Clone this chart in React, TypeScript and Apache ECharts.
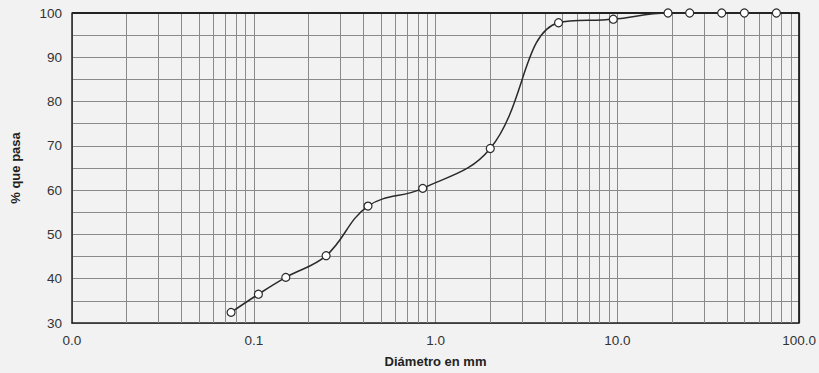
import React, { useEffect, useRef } from "react";
import * as echarts from "echarts";

const diameters = [0.075, 0.106, 0.15, 0.25, 0.425, 0.85, 2.0, 4.75, 9.5, 19, 25, 37.5, 50, 75];
const passing = [32.4, 36.5, 40.3, 45.2, 56.4, 60.4, 69.4, 97.8, 98.6, 100, 100, 100, 100, 100];
const minorX = [
  0.02, 0.03, 0.04, 0.05, 0.06, 0.07, 0.08, 0.09,
  0.2, 0.3, 0.4, 0.5, 0.6, 0.7, 0.8, 0.9,
  2, 3, 4, 5, 6, 7, 8, 9,
  20, 30, 40, 50, 60, 70, 80, 90,
];

export default function App() {
  const ref = useRef<HTMLDivElement>(null);
  useEffect(() => {
    if (!ref.current) return;
    const chart = echarts.init(ref.current, null, { renderer: "svg" });
    const font = "Liberation Sans, Arial, sans-serif";
    chart.setOption({
      animation: false,
      backgroundColor: "#f2f2f2",
      grid: { left: 72, right: 19, top: 13, bottom: 47, show: false },
      xAxis: {
        type: "log",
        logBase: 10,
        min: 0.01,
        max: 100,
        name: "Diámetro en mm",
        nameLocation: "middle",
        nameGap: 32,
        nameTextStyle: { fontFamily: font, fontWeight: "bold", fontSize: 13, color: "#222" },
        axisLine: { show: true, onZero: false, lineStyle: { color: "#222", width: 1.5 } },
        axisTick: { show: false },
        axisLabel: {
          fontFamily: font,
          fontSize: 13.5,
          color: "#333",
          margin: 10,
          formatter: (v: number) => v.toFixed(1),
        },
        splitLine: { show: true, lineStyle: { color: "#8a8a8a", width: 1 } },
      },
      yAxis: {
        type: "value",
        min: 30,
        max: 100,
        interval: 5,
        name: "% que pasa",
        nameLocation: "middle",
        nameGap: 50,
        nameRotate: 90,
        nameTextStyle: { fontFamily: font, fontWeight: "bold", fontSize: 13, color: "#222" },
        axisLine: { show: true, lineStyle: { color: "#222", width: 1.5 } },
        axisTick: { show: false },
        axisLabel: {
          fontFamily: font,
          fontSize: 13.5,
          color: "#333",
          margin: 10,
          formatter: (v: number) => (v % 10 === 0 ? String(v) : ""),
        },
        splitLine: { show: true, lineStyle: { color: "#8a8a8a", width: 1 } },
      },
      series: [
        {
          type: "line",
          data: diameters.map((d, i) => [d, passing[i]]),
          smooth: 0.4,
          symbol: "circle",
          symbolSize: 8,
          lineStyle: { color: "#2a2a2a", width: 1.5 },
          itemStyle: { color: "#ffffff", borderColor: "#2a2a2a", borderWidth: 1.2 },
          z: 5,
          markLine: {
            silent: true,
            symbol: "none",
            label: { show: false },
            lineStyle: { color: "#8a8a8a", width: 1, type: "solid" },
            data: minorX.map((x) => ({ xAxis: x })),
            z: 1,
          },
        },
        {
          type: "line",
          data: [[0.01, 100], [100, 100], [100, 30]],
          symbol: "none",
          lineStyle: { color: "#222", width: 2 },
          silent: true,
          z: 4,
        },
      ],
    });
    return () => chart.dispose();
  }, []);
  return (
    <div
      ref={ref}
      style={{ position: "fixed", left: 0, top: 0, width: 819, height: 373 }}
    />
  );
}
